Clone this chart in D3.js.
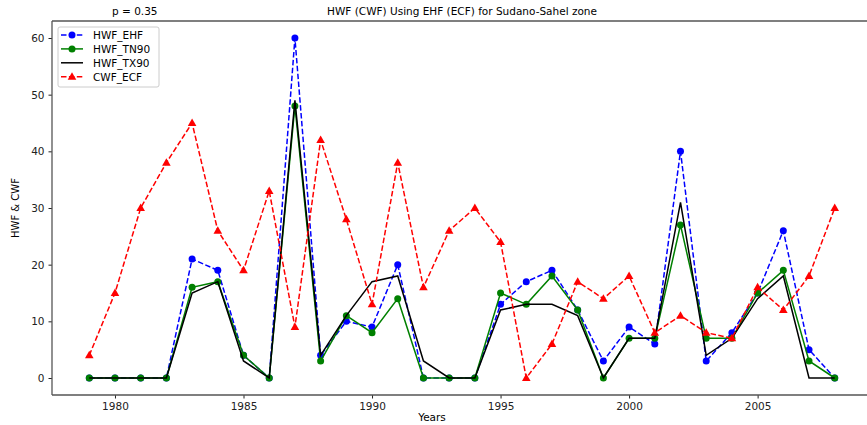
<!DOCTYPE html>
<html lang="en">
<head>
  <meta charset="UTF-8">
  <title>HWF (CWF) Using EHF (ECF) for Sudano-Sahel zone</title>
  <style>
      body { margin: 0; background: #fff; overflow: hidden; }
      svg { display: block; }
      text { font-family: "DejaVu Sans", sans-serif; }
      .tick text { font-size: 10.5px; fill: #222; }
      .tick line, .domain { stroke: #222; }
  </style>
</head>
<body>
<div id="chart"></div>
<script src="https://d3js.org/d3.v7.min.js"></script>
<script>
  const years = [1979, 1980, 1981, 1982, 1983, 1984, 1985, 1986, 1987, 1988, 1989, 1990, 1991, 1992, 1993,
    1994, 1995, 1996, 1997, 1998, 1999, 2000, 2001, 2002, 2003, 2004, 2005, 2006, 2007, 2008];
  const hwfEhf = [0, 0, 0, 0, 21, 19, 4, 0, 60, 4, 10, 9, 20, 0, 0, 0, 13, 17, 19, 12, 3, 9, 6, 40, 3, 8, 15, 26, 5, 0];
  const hwfTn90 = [0, 0, 0, 0, 16, 17, 4, 0, 48, 3, 11, 8, 14, 0, 0, 0, 15, 13, 18, 12, 0, 7, 7, 27, 7, 7, 15, 19, 3, 0];
  const hwfTx90 = [0, 0, 0, 0, 15, 17, 3, 0, 49, 4, 11, 17, 18, 3, 0, 0, 12, 13, 13, 11, 0, 7, 7, 31, 4, 7, 14, 18, 0, 0];
  const cwfEcf = [4, 15, 30, 38, 45, 26, 19, 33, 9, 42, 28, 13, 38, 16, 26, 30, 24, 0, 6, 17, 14, 18, 8, 11, 8, 7, 16, 12, 18, 30];
  const xTicks = [1980, 1985, 1990, 1995, 2000, 2005];
  const yTicks = [0, 10, 20, 30, 40, 50, 60];

  const W = 867, H = 425;
  const margin = {left: 52, right: 872, top: 21, bottom: 395};

  const svg = d3.select("#chart").append("svg")
    .attr("width", W)
    .attr("height", H);

  const x = d3.scaleLinear().domain([1977.55, 2009.45]).range([margin.left, margin.right]);
  const y = d3.scaleLinear().domain([-3, 63]).range([margin.bottom, margin.top]);

  // axes
  svg.append("g")
    .attr("transform", `translate(0,${margin.bottom})`)
    .call(d3.axisBottom(x).tickValues(xTicks).tickFormat(d3.format("d")).tickSize(3.5).tickPadding(4))
    .call(g => g.select(".domain").remove());

  svg.append("g")
    .attr("transform", `translate(${margin.left},0)`)
    .call(d3.axisLeft(y).tickValues(yTicks).tickSize(3.5).tickPadding(4))
    .call(g => g.select(".domain").remove());

  // spines (the right one falls outside the picture)
  const spines = svg.append("g").attr("stroke", "#555").attr("stroke-width", 1.3);
  spines.append("line").attr("x1", margin.left).attr("x2", W).attr("y1", margin.top).attr("y2", margin.top);
  spines.append("line").attr("x1", margin.left).attr("x2", W).attr("y1", margin.bottom).attr("y2", margin.bottom);
  spines.append("line").attr("x1", margin.left).attr("x2", margin.left).attr("y1", margin.top).attr("y2", margin.bottom);

  const series = [
    {name: "HWF_EHF", values: hwfEhf, color: "#0000ff", dash: "5.5,2.4", marker: "circle"},
    {name: "HWF_TN90", values: hwfTn90, color: "#008000", dash: null, marker: "circle"},
    {name: "HWF_TX90", values: hwfTx90, color: "#000000", dash: null, marker: null},
    {name: "CWF_ECF", values: cwfEcf, color: "#ff0000", dash: "5.5,2.4", marker: "triangle"}
  ];

  const line = d3.line().x((d, i) => x(years[i])).y(d => y(d));
  const tri = d3.symbol().type(d3.symbolTriangle).size(32);

  function drawMarker(g, s, cx, cy) {
    if (s.marker === "circle") {
      g.append("circle").attr("cx", cx).attr("cy", cy).attr("r", 3.5).attr("fill", s.color);
    } else if (s.marker === "triangle") {
      g.append("path").attr("d", tri()).attr("transform", `translate(${cx},${cy + 0.5})`).attr("fill", s.color);
    }
  }

  series.forEach(s => {
    const g = svg.append("g");
    g.append("path")
      .datum(s.values)
      .attr("d", line)
      .attr("fill", "none")
      .attr("stroke", s.color)
      .attr("stroke-width", 1.5)
      .attr("stroke-dasharray", s.dash);
    s.values.forEach((v, i) => drawMarker(g, s, x(years[i]), y(v)));
  });

  // legend
  const lg = svg.append("g");
  lg.append("rect")
    .attr("x", 58).attr("y", 27).attr("width", 101).attr("height", 60)
    .attr("rx", 2)
    .attr("fill", "#fff").attr("fill-opacity", 0.8)
    .attr("stroke", "#ccc");
  series.forEach((s, i) => {
    const ly = 35 + i * 13.9;
    lg.append("line")
      .attr("x1", 61).attr("x2", 83).attr("y1", ly).attr("y2", ly)
      .attr("stroke", s.color).attr("stroke-width", 1.5)
      .attr("stroke-dasharray", s.dash);
    drawMarker(lg, s, 72, ly);
    lg.append("text")
      .attr("x", 93).attr("y", ly + 4)
      .style("font-size", "10.5px")
      .text(s.name);
  });

  // titles and labels
  svg.append("text")
    .attr("x", 462).attr("y", 15)
    .attr("text-anchor", "middle")
    .style("font-size", "10.5px")
    .text("HWF (CWF) Using EHF (ECF) for Sudano-Sahel zone");

  svg.append("text")
    .attr("x", 112).attr("y", 15)
    .style("font-size", "10.5px")
    .text("p = 0.35");

  svg.append("text")
    .attr("x", 432).attr("y", 421)
    .attr("text-anchor", "middle")
    .style("font-size", "10.5px")
    .text("Years");

  svg.append("text")
    .attr("transform", `translate(19,${(margin.top + margin.bottom) / 2}) rotate(-90)`)
    .attr("text-anchor", "middle")
    .style("font-size", "10px")
    .text("HWF & CWF");
</script>
</body>
</html>
